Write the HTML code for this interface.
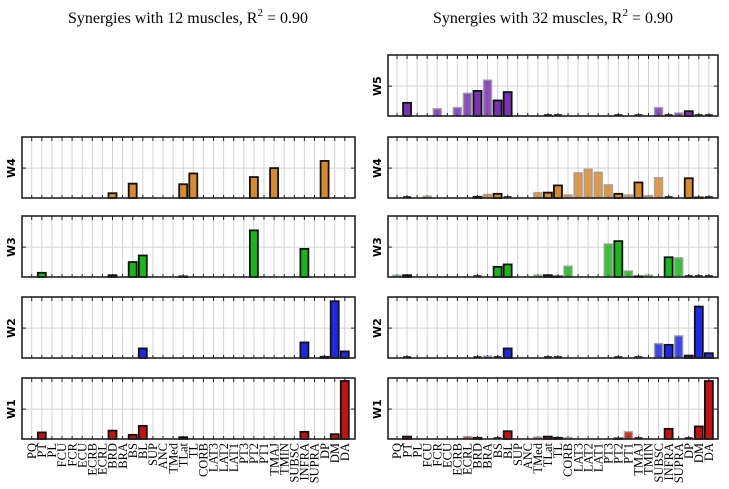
<!DOCTYPE html>
<html><head><meta charset="utf-8"><style>
body{margin:0;background:#fff;}
svg{display:block;}
</style></head><body>
<svg id="chart" width="729" height="489" viewBox="0 0 729 489" xmlns="http://www.w3.org/2000/svg">
<text x="188" y="23" text-anchor="middle" font-family="Liberation Serif, serif" font-size="16">Synergies with 12 muscles, R<tspan dy="-7" font-size="11">2</tspan><tspan dy="7"> = 0.90</tspan></text>
<text x="553" y="23" text-anchor="middle" font-family="Liberation Serif, serif" font-size="16">Synergies with 32 muscles, R<tspan dy="-7" font-size="11">2</tspan><tspan dy="7"> = 0.90</tspan></text>
</svg>
<script>
const muscles=["PQ","PT","PL","FCU","FCR","ECU","ECRB","ECRL","BRD","BRA","BS","BL","SUP","ANC","TMed","TLat","TL","CORB","LAT3","LAT2","LAT1","PT3","PT2","PT1","TMAJ","TMIN","SUBSC","INFRA","SUPRA","DP","DM","DA"];
const selected=[1,8,10,11,15,16,22,24,27,29,30,31];
const colors={W5:"#7a32b4",W4:"#d98a2c",W3:"#16b816",W2:"#1e28e6",W1:"#c41212"};
// sparse values: [index, value]
const leftW4=[[8,0.08],[10,0.24],[15,0.23],[16,0.41],[22,0.35],[24,0.5],[29,0.62]];
const leftW3=[[1,0.07],[8,0.03],[10,0.25],[11,0.36],[15,0.01],[22,0.78],[27,0.47]];
const leftW2=[[11,0.16],[27,0.26],[29,0.02],[30,0.95],[31,0.11]];
const leftW1=[[1,0.11],[8,0.14],[10,0.07],[11,0.22],[15,0.03],[27,0.12],[30,0.08],[31,0.97]];
const rightW5=[[1,0.22],[4,0.12],[6,0.14],[7,0.38],[8,0.42],[9,0.6],[10,0.26],[11,0.4],[26,0.14],[28,0.05],[29,0.08]];
const rightW4=[[3,0.03],[8,0.02],[9,0.06],[10,0.07],[14,0.09],[15,0.09],[16,0.21],[17,0.05],[18,0.42],[19,0.48],[20,0.43],[21,0.22],[22,0.07],[23,0.05],[24,0.26],[25,0.04],[26,0.34],[29,0.33],[30,0.01]];
const rightW3=[[0,0.03],[1,0.03],[10,0.17],[11,0.21],[14,0.03],[15,0.03],[16,0.01],[17,0.18],[21,0.55],[22,0.6],[23,0.1],[24,0.01],[25,0.03],[27,0.33],[28,0.32]];
const rightW2=[[9,0.03],[11,0.16],[26,0.24],[27,0.22],[28,0.37],[29,0.04],[30,0.86],[31,0.08]];
const rightW1=[[1,0.04],[7,0.04],[8,0.02],[11,0.13],[14,0.03],[15,0.04],[16,0.02],[17,0.02],[22,0.01],[23,0.12],[27,0.17],[30,0.21],[31,0.97]];

const NS="http://www.w3.org/2000/svg";
const svg=document.getElementById("chart");
function mk(tag,attrs,parent){const e=document.createElementNS(NS,tag);for(const k in attrs)e.setAttribute(k,attrs[k]);(parent||svg).appendChild(e);return e;}
const rowTops={W5:55,W4:137,W3:216,W2:297,W1:378};
const H=61, YMAX=1.02;
function panel(side,name,data){
  const x0=side==="left"?22:388, x1=side==="left"?355:718;
  const c0=side==="left"?31.7:397, step=side==="left"?10.1:10.06;
  const top=rowTops[name], bot=top+H;
  const xs=i=>c0+step*i;
  const ys=v=>bot-v/YMAX*H;
  const g=mk("g",{});
  
  
  mk("rect",{x:x0,y:top,width:x1-x0,height:H,fill:"#fff"},g);
  for(let i=0;i<muscles.length;i++){
    mk("line",{x1:xs(i),x2:xs(i),y1:top,y2:bot,stroke:"#d4d4d4","stroke-width":1},g);
    mk("line",{x1:xs(i),x2:xs(i),y1:top,y2:top+4,stroke:"#222","stroke-width":1},g);
    mk("line",{x1:xs(i),x2:xs(i),y1:bot,y2:bot-3,stroke:"#222","stroke-width":1},g);
  }
  mk("line",{x1:x0,x2:x1,y1:ys(0.5),y2:ys(0.5),stroke:"#d4d4d4","stroke-width":1},g);
  mk("line",{x1:x1,x2:x1-4,y1:ys(0.5),y2:ys(0.5),stroke:"#222","stroke-width":1},g);
  mk("line",{x1:x0,x2:x0+4,y1:ys(0.5),y2:ys(0.5),stroke:"#222","stroke-width":1},g);
  const col=colors[name];
  const sorted=data.slice().sort((a,b)=>selected.includes(a[0])-selected.includes(b[0]));
  for(const [i,v] of sorted){
    const sel=selected.includes(i);
    const r=mk("rect",{x:xs(i)-4,y:ys(v),width:8,height:Math.max(0.5,bot-ys(v)),fill:col,
      "fill-opacity":sel?1:0.85,stroke:sel?"#111":"#9a9a9a","stroke-width":sel?1.8:1.5,"stroke-opacity":sel?1:0.8},g);
    
    
  }
  if(side==="right"){
    for(const i of selected){
      if(!data.some(d=>d[0]===i)) mk("line",{x1:xs(i)-4,x2:xs(i)+4,y1:bot-1,y2:bot-1,stroke:"#111","stroke-width":1.5},g);
    }
  }
  mk("rect",{x:x0,y:top,width:x1-x0,height:H,fill:"none",stroke:"#222","stroke-width":1.6},g);
  const lab=mk("text",{x:0,y:0,transform:`translate(${x0-7},${ys(0.5)}) rotate(-90)`,"text-anchor":"middle","font-family":"DejaVu Sans, Liberation Sans, sans-serif","font-weight":"bold","font-size":"11"},g);
  lab.textContent=name;
  
  
  if(name==="W1"){
    for(let i=0;i<muscles.length;i++){
      const t=mk("text",{x:0,y:0,transform:`translate(${xs(i)+4.2},${bot+4}) rotate(-90)`,"text-anchor":"end","font-family":"Liberation Serif, serif","font-size":"12.5"},g);
      t.textContent=muscles[i];
      
      
    }
  }
}
panel("left","W4",leftW4);panel("left","W3",leftW3);panel("left","W2",leftW2);panel("left","W1",leftW1);
panel("right","W5",rightW5);panel("right","W4",rightW4);panel("right","W3",rightW3);panel("right","W2",rightW2);panel("right","W1",rightW1);
</script>
</body></html>
